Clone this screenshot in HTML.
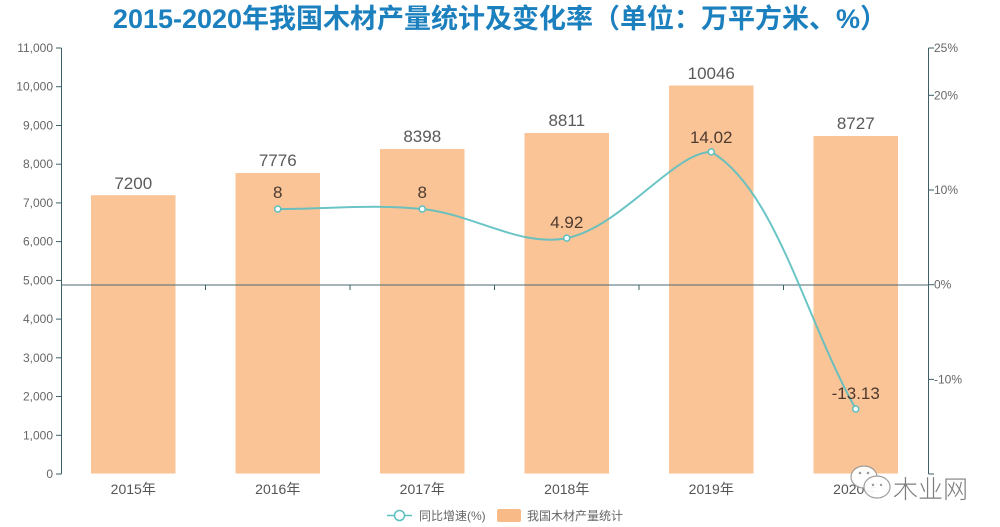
<!DOCTYPE html>
<html>
<head>
<meta charset="utf-8">
<style>
html,body{margin:0;padding:0;background:#fff;}
body{width:1000px;height:527px;overflow:hidden;}
svg{display:block;}
text{font-family:"Liberation Sans","Noto Sans CJK SC",sans-serif;}
</style>
</head>
<body>
<svg width="1000" height="527" viewBox="0 0 1000 527" xmlns="http://www.w3.org/2000/svg">
  <rect width="1000" height="527" fill="#fff"/>
  <!-- title -->
  <text x="500" y="28" text-anchor="middle" font-size="27" font-weight="bold" fill="#1b80bd" style="font-family:'Liberation Sans','Noto Sans CJK SC',sans-serif;">2015-2020年我国木材产量统计及变化率（单位：万平方米、%）</text>

  <!-- bars -->
  <g fill="#fbc497">
    <rect x="91" y="195.2" width="84.5" height="278.3"/>
    <rect x="235.5" y="173" width="84.5" height="300.5"/>
    <rect x="380" y="149" width="84.5" height="324.5"/>
    <rect x="524.5" y="133" width="84.5" height="340.5"/>
    <rect x="669" y="85.5" width="84.5" height="388"/>
    <rect x="813.5" y="136" width="84.5" height="337.5"/>
  </g>

  <!-- left axis -->
  <g stroke="#3d5f66" stroke-width="1" fill="none">
    <line x1="61.5" y1="48" x2="61.5" y2="474"/>
    <line x1="56" y1="48" x2="61.5" y2="48"/>
    <line x1="56" y1="86.7" x2="61.5" y2="86.7"/>
    <line x1="56" y1="125.5" x2="61.5" y2="125.5"/>
    <line x1="56" y1="164.2" x2="61.5" y2="164.2"/>
    <line x1="56" y1="202.9" x2="61.5" y2="202.9"/>
    <line x1="56" y1="241.6" x2="61.5" y2="241.6"/>
    <line x1="56" y1="280.4" x2="61.5" y2="280.4"/>
    <line x1="56" y1="319.1" x2="61.5" y2="319.1"/>
    <line x1="56" y1="357.8" x2="61.5" y2="357.8"/>
    <line x1="56" y1="396.5" x2="61.5" y2="396.5"/>
    <line x1="56" y1="435.3" x2="61.5" y2="435.3"/>
    <line x1="56" y1="474" x2="61.5" y2="474"/>
    <!-- right axis -->
    <line x1="928.5" y1="48" x2="928.5" y2="474"/>
    <line x1="928.5" y1="48" x2="934" y2="48"/>
    <line x1="928.5" y1="95.3" x2="934" y2="95.3"/>
    <line x1="928.5" y1="190" x2="934" y2="190"/>
    <line x1="928.5" y1="284.7" x2="934" y2="284.7"/>
    <line x1="928.5" y1="379.4" x2="934" y2="379.4"/>
    <line x1="928.5" y1="474" x2="934" y2="474"/>
    <!-- zero / category axis -->
    <line x1="61.5" y1="285" x2="928.5" y2="285" stroke="#4a6a70"/>
    <line x1="205.5" y1="285" x2="205.5" y2="290"/>
    <line x1="350" y1="285" x2="350" y2="290"/>
    <line x1="494.5" y1="285" x2="494.5" y2="290"/>
    <line x1="639" y1="285" x2="639" y2="290"/>
    <line x1="783.5" y1="285" x2="783.5" y2="290"/>
  </g>

  <!-- left labels -->
  <g font-size="12" fill="#666" text-anchor="end">
    <text x="53" y="52">11,000</text>
    <text x="53" y="90.7">10,000</text>
    <text x="53" y="129.5">9,000</text>
    <text x="53" y="168.2">8,000</text>
    <text x="53" y="206.9">7,000</text>
    <text x="53" y="245.6">6,000</text>
    <text x="53" y="284.4">5,000</text>
    <text x="53" y="323.1">4,000</text>
    <text x="53" y="361.8">3,000</text>
    <text x="53" y="400.5">2,000</text>
    <text x="53" y="439.3">1,000</text>
    <text x="53" y="478">0</text>
  </g>
  <!-- right labels -->
  <g font-size="12" fill="#666">
    <text x="934" y="52">25%</text>
    <text x="934" y="99.3">20%</text>
    <text x="934" y="194">10%</text>
    <text x="934" y="288.7">0%</text>
    <text x="934" y="383.4">-10%</text>
  </g>

  <!-- category labels -->
  <g font-size="14" fill="#555" text-anchor="middle">
    <text x="133.25" y="494">2015年</text>
    <text x="277.75" y="494">2016年</text>
    <text x="422.25" y="494">2017年</text>
    <text x="566.75" y="494">2018年</text>
    <text x="711.25" y="494">2019年</text>
    <text x="855.75" y="494">2020年</text>
  </g>

  <!-- bar value labels -->
  <g font-size="17" fill="#5a5a5a" text-anchor="middle">
    <text x="133.25" y="189">7200</text>
    <text x="277.75" y="166">7776</text>
    <text x="422.25" y="142">8398</text>
    <text x="566.75" y="126">8811</text>
    <text x="711.25" y="79">10046</text>
    <text x="855.75" y="129">8727</text>
  </g>

  <!-- line series -->
  <path d="M277.75,209 C328.3,209 372.2,204 422.25,209 C473.3,214.1 519.5,247.4 566.75,238.1 C620.7,227.4 674.5,151.9 711.25,151.9 C775.7,190 805.2,319 855.75,409"
        fill="none" stroke="#5bbfc0" stroke-width="2" stroke-opacity="0.9"/>
  <g fill="#fff" stroke="#5bbfc0" stroke-width="1.5">
    <circle cx="277.75" cy="209" r="3"/>
    <circle cx="422.25" cy="209" r="3"/>
    <circle cx="566.75" cy="238.1" r="3"/>
    <circle cx="711.25" cy="151.9" r="3"/>
    <circle cx="855.75" cy="409" r="3"/>
  </g>
  <g font-size="17" fill="#4d3a2e" text-anchor="middle">
    <text x="277.75" y="198">8</text>
    <text x="422.25" y="198">8</text>
    <text x="566.75" y="228">4.92</text>
    <text x="711.25" y="143">14.02</text>
    <text x="855.75" y="399">-13.13</text>
  </g>

  <!-- legend -->
  <line x1="387" y1="515.5" x2="412" y2="515.5" stroke="#5bbfc0" stroke-width="1.5"/>
  <circle cx="399.5" cy="515.5" r="5" fill="#fff" stroke="#5bbfc0" stroke-width="1.5"/>
  <text x="419" y="520" font-size="12" fill="#666">同比增速(%)</text>
  <rect x="497" y="509" width="24" height="13" rx="2" fill="#f8bb88"/>
  <text x="527" y="520" font-size="12" fill="#666">我国木材产量统计</text>

  <!-- watermark -->
  <g opacity="0.95">
    <ellipse cx="864" cy="477" rx="13" ry="11" fill="#fff" stroke="#999" stroke-width="1.2"/>
    <ellipse cx="877" cy="487" rx="13" ry="11" fill="#fff" stroke="#999" stroke-width="1.2"/>
    <circle cx="860" cy="473" r="1.3" fill="#999"/>
    <circle cx="868" cy="473" r="1.3" fill="#999"/>
    <circle cx="873" cy="485" r="1.2" fill="#999"/>
    <circle cx="881" cy="485" r="1.2" fill="#999"/>
    <text x="893" y="498" font-size="25" fill="#777" style="font-family:'Noto Sans CJK SC',sans-serif;font-weight:300;">木业网</text>
  </g>
</svg>
</body>
</html>
